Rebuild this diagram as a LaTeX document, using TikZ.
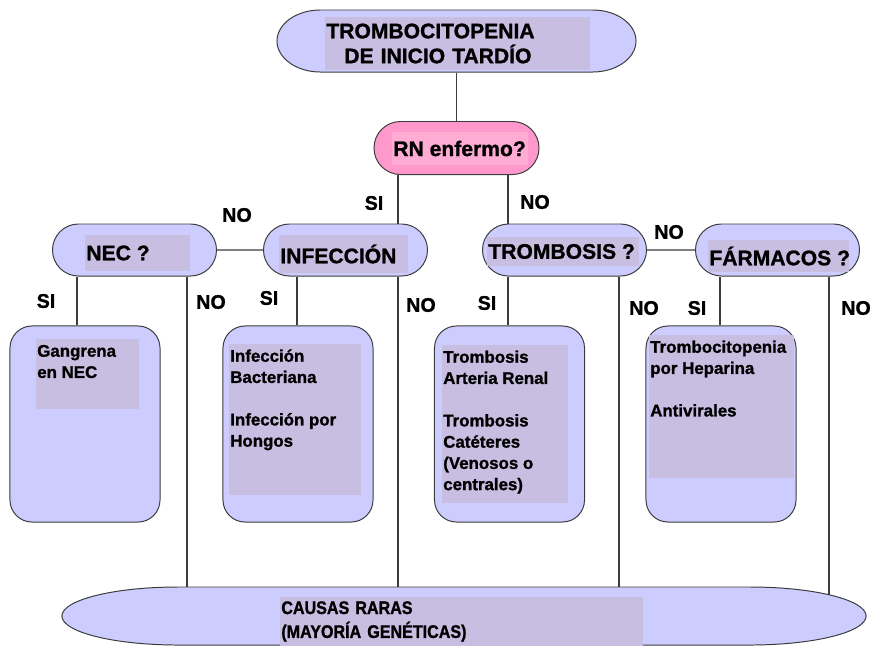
\documentclass[tikz,border=0pt]{standalone}
\usepackage{xcolor}
\usepackage{fontspec}
\setmainfont{Liberation Sans}[BoldFont={Liberation Sans Bold}, BoldFeatures={FakeBold=1.2}]
\usetikzlibrary{shapes.misc}

\definecolor{lavanda}{RGB}{204,204,255}
\definecolor{lavosc}{RGB}{200,190,226}
\definecolor{rosa}{RGB}{255,153,204}
\definecolor{rosaclaro}{RGB}{255,172,212}
\definecolor{borde}{RGB}{60,60,60}

\newcommand{\textocaja}[3]{\parbox[c][#2][t]{#1}{\raggedright\rule{0pt}{12.4pt}#3}}

\tikzset{
	pildora/.style={rounded rectangle, draw=borde, fill=lavanda, line width=0.7pt, inner sep=0pt, minimum width=4.1cm, minimum height=1.3cm},
	caja/.style={rectangle, rounded corners=0.55cm, draw=borde, fill=lavanda, line width=0.7pt, inner sep=0pt, minimum width=3.75cm, minimum height=4.9cm},
	relleno/.style={rectangle, fill=lavosc, inner xsep=1pt, inner ysep=0pt, align=left, font=\bfseries\fontsize{15}{17.7}\selectfont},
	rellenocaja/.style={relleno, anchor=north west, inner xsep=0.7pt, font=\bfseries\fontsize{12}{15.1}\selectfont},
	rama/.style={draw=borde, line width=1pt},
	etiq/.style={inner sep=0pt, font=\bfseries\fontsize{14}{16}\selectfont},
}

\begin{document}
\begin{tikzpicture}[x=0.025cm, y=0.025cm]
				\useasboundingbox (0,0) rectangle (874,-646);
				
				% preguntas
				\node[pildora, xscale=1.4, minimum width=6.41cm, minimum height=1.55cm] (titulo) at (456.5,-41) {};
				\node[pildora, fill=rosa, minimum width=4.125cm, minimum height=1.325cm] (rn) at (456.5,-148) {};
				\node[pildora] (nec) at (134.5,-250) {};
				\node[pildora] (infec) at (345.5,-250) {};
				\node[pildora] (tromb) at (564.5,-250) {};
				\node[pildora] (farm) at (777.5,-250) {};
				
				% causas
				\node[caja] (gangrena) at (85,-424) {};
				\node[caja] (bacter) at (298,-424) {};
				\node[caja] (trombos) at (509.5,-424) {};
				\node[caja] (heparina) at (721,-424) {};
				\node[pildora, xscale=4, minimum width=5.025cm, minimum height=1.45cm] (causas) at (464,-616) {};
				
				% textos
				\node[relleno, text width=6.555cm, minimum height=1.325cm] (titulotxt) at (457.5,-43.5) {TROMBOCITOPENIA\\\hspace*{0.45cm}DE INICIO TARDÍO};
				\node[relleno, fill=rosaclaro, minimum height=0.825cm] (rntxt) at (460,-148.5) {\makebox[3.33cm][l]{RN enfermo?}};
				\node[relleno, minimum height=0.9cm] (nectxt) at (137.5,-253) {\makebox[2.555cm][l]{NEC ?}};
				\node[relleno, minimum height=0.95cm] (infectxt) at (343.5,-254) {\makebox[3.155cm][l]{INFECCIÓN}};
				\node[relleno, minimum height=0.725cm] (trombtxt) at (563,-251.5) {\makebox[3.73cm][l]{TROMBOSIS ?}};
				\node[relleno, minimum height=0.8cm] (farmtxt) at (778.5,-256) {\makebox[3.455cm][l]{FÁRMACOS ?}};
				
				\node[rellenocaja] (gangrenatxt) at (36,-339) {\textocaja{2.525cm}{1.75cm}{Gangrena\\en NEC}};
				\node[rellenocaja] (bactertxt) at (229,-344) {\textocaja{3.25cm}{3.775cm}{Infección\\Bacteriana\\[15.1pt]Infección por\\Hongos}};
				\node[rellenocaja] (trombostxt) at (442,-345) {\textocaja{3.1cm}{3.95cm}{Trombosis\\Arteria Renal\\[15.1pt]Trombosis\\Catéteres\\(Venosos o\\centrales)}};
				\node[rellenocaja] (heparinatxt) at (649,-335) {\textocaja{3.575cm}{3.575cm}{Trombocitopenia\\por Heparina\\[15.1pt]Antivirales}};
				
				\node[relleno, text width=9.005cm, minimum height=1.225cm, font=\bfseries\fontsize{13}{17}\selectfont\addfontfeature{FakeStretch=0.88}] (causastxt) at (461.5,-621.5) {CAUSAS RARAS\\(MAYORÍA GENÉTICAS)};
				
				% ramas
				\draw[rama] (titulo.south) -- (rn.north);
				\draw[rama] (398,0 |- rn.south) -- (398,0 |- infec.north);
				\draw[rama] (508,0 |- rn.south) -- (508,0 |- tromb.north);
				\draw[rama] (nec) -- (infec);
				\draw[rama] (tromb) -- (farm);
				\draw[rama] (77,0 |- nec.south) -- (77,0 |- gangrena.north);
				\draw[rama] (187,0 |- nec.south) -- (187,0 |- causas.north);
				\draw[rama] (297,0 |- infec.south) -- (297,0 |- bacter.north);
				\draw[rama] (398,0 |- infec.south) -- (398,0 |- causas.north);
				\draw[rama] (508,0 |- tromb.south) -- (508,0 |- trombos.north);
				\draw[rama] (619,0 |- tromb.south) -- (619,0 |- causas.north);
				\draw[rama] (720,0 |- farm.south) -- (720,0 |- heparina.north);
				\draw[rama] (829,0 |- farm.south) -- (829,0 |- causas.13);
				
				% SI / NO
				\node[etiq] (siRN) at (374,-203) {SI};
				\node[etiq] (noRN) at (535,-202) {NO};
				\node[etiq] (noNec) at (237,-215) {NO};
				\node[etiq] (noTromb) at (669,-232) {NO};
				\node[etiq] (siNec) at (46,-301) {SI};
				\node[etiq] (noNecC) at (211,-302) {NO};
				\node[etiq] (siInf) at (269,-298) {SI};
				\node[etiq] (noInf) at (421,-305) {NO};
				\node[etiq] (siTro) at (487,-303) {SI};
				\node[etiq] (noTro) at (644,-308) {NO};
				\node[etiq] (siFar) at (697,-308) {SI};
				\node[etiq] (noFar) at (856,-308) {NO};
				
			\end{tikzpicture}
\end{document}
